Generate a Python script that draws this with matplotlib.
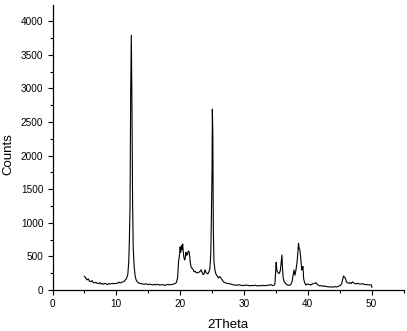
import matplotlib
matplotlib.use("Agg")
import matplotlib.pyplot as plt
from matplotlib.ticker import MultipleLocator

plt.rcParams['font.family'] = ['Liberation Sans', 'DejaVu Sans']

two_theta = [
    5.0, 5.2, 5.4, 5.6, 5.8, 6.0, 6.2, 6.4, 6.6, 6.8, 7.0, 7.2, 7.4, 7.6, 7.8, 8.0,
    8.2, 8.4, 8.6, 8.8, 9.0, 9.2, 9.4, 9.6, 9.8, 10.0, 10.2, 10.4, 10.6, 10.8, 11.0,
    11.2, 11.4, 11.6, 11.8, 11.95, 12.05, 12.15, 12.25, 12.35, 12.45, 12.55, 12.65,
    12.8, 12.95, 13.1, 13.3, 13.5, 13.8, 14.1, 14.4, 14.7, 15.0, 15.3, 15.6, 15.9,
    16.2, 16.5, 16.8, 17.1, 17.4, 17.7, 18.0, 18.3, 18.6, 18.9, 19.2, 19.4, 19.6,
    19.75, 19.9, 20.0, 20.1, 20.2, 20.3, 20.4, 20.5, 20.6, 20.7, 20.8, 20.9, 21.0,
    21.1, 21.2, 21.3, 21.4, 21.5, 21.6, 21.75, 21.9, 22.05, 22.2, 22.35, 22.5, 22.7,
    22.85, 23.0, 23.15, 23.3, 23.45, 23.6, 23.75, 23.9, 24.05, 24.2, 24.35, 24.5,
    24.65, 24.8, 24.9, 25.0, 25.05, 25.12, 25.2, 25.3, 25.45, 25.6, 25.8, 26.0, 26.2,
    26.4, 26.6, 26.8, 27.0, 27.3, 27.6, 27.9, 28.2, 28.5, 28.8, 29.1, 29.4, 29.7,
    30.0, 30.3, 30.6, 30.9, 31.2, 31.5, 31.8, 32.1, 32.4, 32.7, 33.0, 33.3, 33.6,
    33.9, 34.2, 34.5, 34.7, 34.85, 34.95, 35.05, 35.15, 35.25, 35.4, 35.55, 35.7,
    35.85, 35.95, 36.05, 36.15, 36.3, 36.45, 36.6, 36.8, 37.0, 37.2, 37.4, 37.55,
    37.7, 37.85, 38.0, 38.15, 38.3, 38.45, 38.55, 38.65, 38.75, 38.85, 38.95, 39.05,
    39.15, 39.25, 39.35, 39.5, 39.7, 39.9, 40.1, 40.3, 40.5, 40.7, 40.9, 41.1, 41.3,
    41.5, 41.7, 41.9, 42.1, 42.4, 42.7, 43.0, 43.3, 43.6, 43.9, 44.2, 44.5, 44.8,
    45.1, 45.3, 45.45, 45.6, 45.75, 45.9, 46.05, 46.2, 46.4, 46.6, 46.8, 47.0, 47.2,
    47.4, 47.6, 47.8, 48.0, 48.2, 48.4, 48.6, 48.8, 49.0, 49.2, 49.4, 49.6, 49.8,
    49.95, 50.05,
]

counts = [
    205, 180, 150, 165, 130, 125, 140, 110, 105, 115, 100, 95, 108, 90, 95, 85,
    100, 92, 80, 96, 88, 95, 98, 92, 100, 95, 102, 118, 105, 112, 120,
    128, 150, 170, 230, 420, 760, 1250, 2920, 3790, 2740, 1300, 620,
    340, 210, 150, 120, 105, 95, 90, 85, 92, 80, 88, 75, 82,
    78, 85, 72, 80, 76, 70, 84, 78, 80, 88, 95, 110, 180,
    420, 520, 640, 560, 660, 600, 684, 560, 480, 446, 470, 560, 520,
    520, 560, 580, 570, 500, 400, 330, 323, 300, 270, 280, 260, 255,
    257, 270, 280, 300, 260, 230, 240, 300, 260, 248, 240, 270,
    310, 520, 1100, 1800, 2690, 2330, 900, 420, 300, 240, 210, 180, 200,
    175, 150, 120, 110, 100, 95, 90, 80, 75, 70, 78, 72, 68,
    65, 75, 70, 62, 68, 64, 72, 60, 66, 62, 70, 64, 68,
    72, 80, 65, 70, 90, 250, 411, 300, 270, 250, 248, 290,
    420, 520, 300, 180, 120, 109, 90, 75, 70, 72, 90, 130,
    220, 297, 220, 300, 396, 560, 694, 620, 600, 520, 420, 297,
    330, 350, 170, 110, 74, 90, 85, 80, 75, 90, 95, 100, 110,
    80, 70, 60, 65, 55, 58, 50, 45, 48, 42, 50, 45, 55,
    65, 90, 150, 208, 190, 176, 120, 110, 100, 110, 95, 120, 105,
    95, 90, 100, 92, 88, 90, 95, 85, 80, 82, 78, 76, 75,
    78, 42,
]

W, H = 407, 331
fig = plt.figure(figsize=(W / 100, H / 100), dpi=100)
ax = fig.add_axes([52.5 / W, 1 - 290 / H, (403.5 - 52.5) / W, (290 - 5) / H])
ax.plot(two_theta, counts, color='black', linewidth=0.8)

ax.set_xlim(0, 55)
ax.set_ylim(0, 4240)
ax.xaxis.set_major_locator(MultipleLocator(10))
ax.xaxis.set_minor_locator(MultipleLocator(5))
ax.yaxis.set_major_locator(MultipleLocator(500))
ax.yaxis.set_minor_locator(MultipleLocator(250))
ax.set_xticks([0, 10, 20, 30, 40, 50])

for s in ['top', 'right']:
    ax.spines[s].set_visible(False)
for s in ['left', 'bottom']:
    ax.spines[s].set_linewidth(0.9)

ax.tick_params(axis='both', which='major', direction='out', length=3.6, width=0.8,
               labelsize=7.2, pad=3.0, colors='black')
ax.tick_params(axis='both', which='minor', direction='out', length=2.2, width=0.8)

fig.text(228 / W, 1 - 325 / H, '2Theta', ha='center', va='center', fontsize=9.5)
fig.text(8 / W, 1 - 154.3 / H, 'Counts', ha='center', va='center', fontsize=9.5,
         rotation=90)

fig.savefig('out.png', dpi=100)
